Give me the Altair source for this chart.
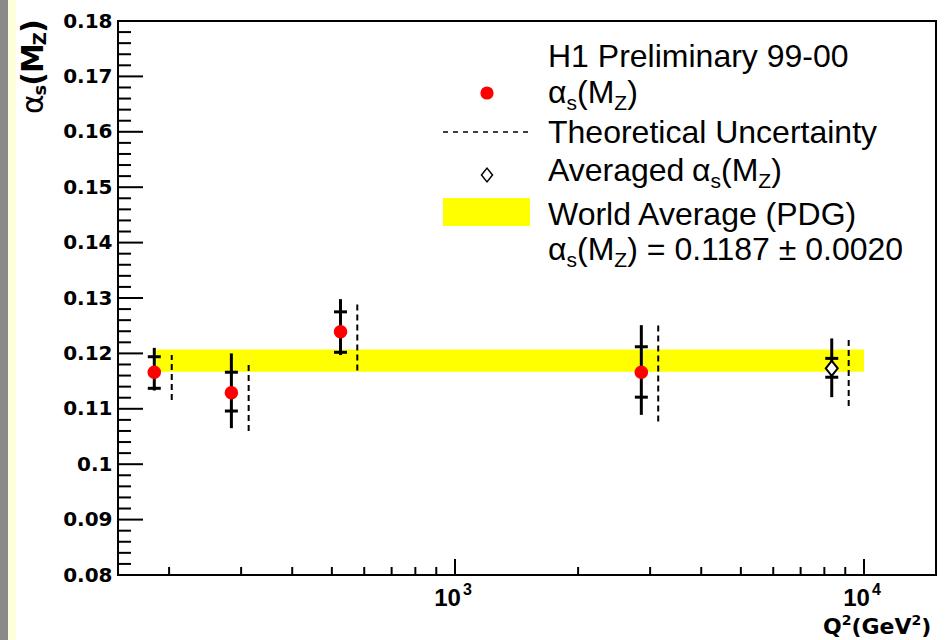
import altair as alt
import pandas as pd

# ---------------- data ----------------
q2 = [184, 284, 525, 2855]
alpha_s = [0.1166, 0.1129, 0.1239, 0.1166]
tot_lo = [0.1133, 0.1065, 0.1197, 0.1089]
tot_hi = [0.1210, 0.1200, 0.1298, 0.1251]
stat_lo = [0.1137, 0.1096, 0.1202, 0.1121]
stat_hi = [0.1194, 0.1166, 0.1275, 0.1212]
theo_q2 = [203, 313, 577, 3140]
theo_lo = [0.1116, 0.1060, 0.1169, 0.1077]
theo_hi = [0.1197, 0.1180, 0.1289, 0.1255]

avg_q2 = [8340]
avg_alpha = [0.1173]
avg_tot_lo = [0.1121]
avg_tot_hi = [0.1227]
avg_stat_lo = [0.1157]
avg_stat_hi = [0.1191]
avg_theo_q2 = [9175]
avg_theo_lo = [0.1105]
avg_theo_hi = [0.1224]

world_avg = 0.1187
world_err = 0.0020
band_q2 = [186, 10000]

y_major = [0.08, 0.09, 0.10, 0.11, 0.12, 0.13, 0.14, 0.15, 0.16, 0.17, 0.18]
y_minor = [round(0.08 + 0.002 * i, 3) for i in range(51) if i % 5 != 0]
x_major = [1000, 10000]
x_minor = [200, 300, 400, 500, 600, 700, 800, 900,
           2000, 3000, 4000, 5000, 6000, 7000, 8000, 9000]
x_label_exp = ["3", "4"]

# ---------------- layout ----------------
OX, OY = 118, 21          # plot origin on the page
W, H = 818, 554

xscale = alt.Scale(type="log", domain=[150, 15000], nice=False)
yscale = alt.Scale(domain=[0.08, 0.18], nice=False, zero=False)
yaxis = alt.Axis(values=y_major, format="~g", ticks=False, domain=False, grid=False,
                 title=None, labelFont="DejaVu Sans", labelFontWeight="bold",
                 labelFontSize=20, labelColor="black", labelPadding=6,
                 labelOverlap=False, labelFlush=False)

one = pd.DataFrame({"k": [0]})


def X(f):
    return alt.X(f, scale=xscale, axis=None)


def Y(f):
    return alt.Y(f, scale=yscale, axis=yaxis)


def txt(s, px, py, size, font="Liberation Sans", weight="normal", align="left", angle=None):
    kw = dict(text=s, font=font, fontSize=size, fontWeight=weight, align=align,
              baseline="alphabetic", color="black")
    if angle is not None:
        kw["angle"] = angle
    return alt.Chart(one).mark_text(**kw).encode(x=alt.value(px - OX), y=alt.value(py - OY))


layers = []

# left decorative strips of the canvas
layers.append(alt.Chart(one).mark_rect(color="#8a8a8a").encode(
    x=alt.value(0 - OX), x2=alt.value(8 - OX), y=alt.value(0 - OY), y2=alt.value(640 - OY)))
layers.append(alt.Chart(one).mark_rect(color="#fffedc").encode(
    x=alt.value(8 - OX), x2=alt.value(16 - OX), y=alt.value(0 - OY), y2=alt.value(640 - OY)))

# world average band
band_df = pd.DataFrame({"x1": [band_q2[0]], "x2": [band_q2[1]],
                        "lo": [world_avg - world_err], "hi": [world_avg + world_err]})
layers.append(alt.Chart(band_df).mark_rect(color="#ffff00").encode(
    x=X("x1:Q"), x2="x2:Q", y=Y("lo:Q"), y2="hi:Q"))

# theoretical uncertainty (dashed)
theo_df = pd.DataFrame({"q2": theo_q2 + avg_theo_q2, "lo": theo_lo + avg_theo_lo,
                        "hi": theo_hi + avg_theo_hi})
layers.append(alt.Chart(theo_df).mark_rule(color="black", strokeWidth=2, strokeDash=[6, 4]).encode(
    x=X("q2:Q"), y=Y("lo:Q"), y2="hi:Q"))

# total error bars
err_df = pd.DataFrame({"q2": q2 + avg_q2, "lo": tot_lo + avg_tot_lo, "hi": tot_hi + avg_tot_hi})
layers.append(alt.Chart(err_df).mark_rule(color="black", strokeWidth=3).encode(
    x=X("q2:Q"), y=Y("lo:Q"), y2="hi:Q"))

# inner (statistical) error marks
st_q = q2 + avg_q2
st_df = pd.DataFrame({"q2": st_q + st_q,
                      "v": stat_lo + avg_stat_lo + stat_hi + avg_stat_hi})
layers.append(alt.Chart(st_df).mark_tick(color="black", orient="horizontal", size=13,
                                         thickness=3, opacity=1).encode(
    x=X("q2:Q"), y=Y("v:Q")))

# data points
pts_df = pd.DataFrame({"q2": q2, "a": alpha_s})
layers.append(alt.Chart(pts_df).mark_point(shape="circle", filled=True, color="#ff0000",
                                           size=185, opacity=1).encode(
    x=X("q2:Q"), y=Y("a:Q")))

DIAMOND = "M-0.8,0L0,-1L0.8,0L0,1Z"
avg_df = pd.DataFrame({"q2": avg_q2, "a": avg_alpha})
layers.append(alt.Chart(avg_df).mark_point(shape=DIAMOND, filled=True, fill="white",
                                           stroke="black", strokeWidth=2, size=225,
                                           opacity=1, fillOpacity=1).encode(
    x=X("q2:Q"), y=Y("a:Q")))

# inward axis ticks
layers.append(alt.Chart(pd.DataFrame({"v": y_major})).mark_rule(color="black", strokeWidth=2).encode(
    y=Y("v:Q"), x=alt.value(0), x2=alt.value(25)))
layers.append(alt.Chart(pd.DataFrame({"v": y_minor})).mark_rule(color="black", strokeWidth=2).encode(
    y=Y("v:Q"), x=alt.value(0), x2=alt.value(13)))
layers.append(alt.Chart(pd.DataFrame({"v": x_major})).mark_rule(color="black", strokeWidth=2).encode(
    x=X("v:Q"), y=alt.value(H), y2=alt.value(H - 16)))
layers.append(alt.Chart(pd.DataFrame({"v": x_minor})).mark_rule(color="black", strokeWidth=2).encode(
    x=X("v:Q"), y=alt.value(H), y2=alt.value(H - 8)))

# x tick labels 10^3, 10^4
xl_df = pd.DataFrame({"v": x_major, "e": x_label_exp})
layers.append(alt.Chart(xl_df).mark_text(text="10", font="Liberation Sans", fontWeight="bold",
                                         fontSize=24, align="right", baseline="alphabetic",
                                         dx=6, color="black").encode(
    x=X("v:Q"), y=alt.value(606 - OY)))
layers.append(alt.Chart(xl_df).mark_text(font="Liberation Sans", fontWeight="bold",
                                         fontSize=16, align="left", baseline="alphabetic",
                                         dx=8, color="black").encode(
    x=X("v:Q"), y=alt.value(595 - OY), text="e:N"))

# x title  Q^2 (GeV^2)
xt = [("Q", 22, 0.850, 0), ("2", 14, 0.696, -9), ("(GeV", 22, 2.730, 0),
      ("2", 14, 0.696, -9), (")", 22, 0.457, 0)]
px = 823
for s, sz, w, d in xt:
    layers.append(txt(s, px, 634 + d, sz, font="DejaVu Sans", weight="bold"))
    px += w * sz

# y title  alpha_s(M_Z), rotated
yt = [("α", "normal", 30, 0.659, 0), ("s", "bold", 18, 0.595, 3), ("(", "bold", 30, 0.457, 0),
      ("M", "bold", 30, 0.995, 0), ("Z", "bold", 18, 0.725, 3), (")", "bold", 30, 0.457, 0)]
py = 114
for s, wt, sz, w, d in yt:
    layers.append(txt(s, 43 + d, py, sz, font="DejaVu Sans", weight=wt, angle=270))
    py -= w * sz * 0.93


# legend
def alpha_group(x0, base, size=32, sub=21, drop=7):
    segs = [("α", 0.579, size, 0), ("s", 0.5, sub, drop), ("(M", 1.166, size, 0),
            ("Z", 0.611, sub, drop), (")", 0.333, size, 0)]
    out = []
    x = x0
    for s, w, sz, d in segs:
        out.append(txt(s, x, base + d, sz))
        x += w * sz
    return out, x


LX = 548
layers.append(txt("H1 Preliminary 99-00", LX, 67, 32))
g, _ = alpha_group(LX, 103)
layers += g
layers.append(txt("Theoretical Uncertainty", LX, 143, 32))
layers.append(txt("Averaged", LX, 181, 32))
g, _ = alpha_group(692, 181)
layers += g
layers.append(txt("World Average (PDG)", LX, 225, 32))
g, xe = alpha_group(LX, 260)
layers += g
layers.append(txt("= 0.1187 ± 0.0020", xe + 9, 260, 32))

layers.append(alt.Chart(one).mark_point(shape="circle", filled=True, color="#ff0000",
                                        size=175, opacity=1).encode(
    x=alt.value(487 - OX), y=alt.value(93 - OY)))
layers.append(alt.Chart(one).mark_rule(color="black", strokeWidth=1.5, strokeDash=[5, 5]).encode(
    x=alt.value(443 - OX), x2=alt.value(528 - OX), y=alt.value(132 - OY)))
layers.append(alt.Chart(one).mark_point(shape=DIAMOND, filled=True, fill="white", stroke="black",
                                        strokeWidth=1.5, size=190, opacity=1, fillOpacity=1).encode(
    x=alt.value(487 - OX), y=alt.value(175 - OY)))
layers.append(alt.Chart(one).mark_rect(color="#ffff00").encode(
    x=alt.value(443 - OX), x2=alt.value(530 - OX), y=alt.value(198 - OY), y2=alt.value(226 - OY)))

chart = alt.layer(*layers).properties(
    width=W, height=H, autosize="none",
    padding={"left": OX, "top": OY, "right": 945 - OX - W, "bottom": 640 - OY - H},
    background="white",
).configure_view(stroke="black", strokeWidth=2)

chart.save("out.html", embed_options={"renderer": "svg", "actions": False})
